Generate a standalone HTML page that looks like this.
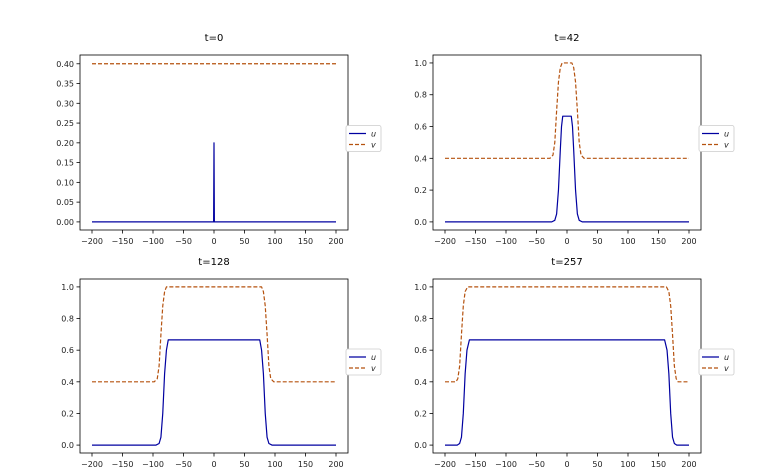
<!DOCTYPE html>
<html><head><meta charset="utf-8">
<style>body{margin:0;background:#fff}svg{display:block;font-family:"DejaVu Sans","Liberation Sans",sans-serif}</style>
</head><body>
<svg id="fig" width="780" height="473" viewBox="0 0 780 473"></svg>
<script>
const titles = ["t=0","t=42","t=128","t=257"];
const xTicks = [-200,-150,-100,-50,0,50,100,150,200];
const yTicks0 = [0,0.05,0.10,0.15,0.20,0.25,0.30,0.35,0.40];
const yTicksN = [0,0.2,0.4,0.6,0.8,1.0];
const x0 = [-200,-0.6,0,0.6,200];
const u0 = [0,0,0.2,0,0];
const v0x = [-200,200];
const v0 = [0.4,0.4];
const x42 = [-200,-25,-20,-17,-14,-11,-9,-7,0,7,9,11,14,17,20,25,200];
const u42 = [0,0,0.01,0.05,0.2,0.45,0.6,0.665,0.665,0.665,0.6,0.45,0.2,0.05,0.01,0,0];
const v42x = [-200,-28,-23,-20,-17,-14,-11,-8,0,8,11,14,17,20,23,28,200];
const v42 = [0.4,0.4,0.42,0.5,0.7,0.88,0.97,1,1,1,0.97,0.88,0.7,0.5,0.42,0.4,0.4];
const x128 = [-200,-95,-90,-87,-84,-81,-78,-75,0,75,78,81,84,87,90,95,200];
const u128 = [0,0,0.01,0.05,0.2,0.45,0.6,0.665,0.665,0.665,0.6,0.45,0.2,0.05,0.01,0,0];
const v128x = [-200,-98,-93,-90,-87,-84,-81,-78,0,78,81,84,87,90,93,98,200];
const v128 = [0.4,0.4,0.42,0.5,0.7,0.88,0.97,1,1,1,0.97,0.88,0.7,0.5,0.42,0.4,0.4];
const x257 = [-200,-180,-176,-173,-170,-167,-164,-160,0,160,164,167,170,173,176,180,200];
const u257 = [0,0,0.01,0.05,0.2,0.45,0.6,0.665,0.665,0.665,0.6,0.45,0.2,0.05,0.01,0,0];
const v257x = [-200,-182,-179,-176,-173,-170,-167,-163,0,163,167,170,173,176,179,182,200];
const v257 = [0.4,0.4,0.42,0.5,0.7,0.88,0.97,1,1,1,0.97,0.88,0.7,0.5,0.42,0.4,0.4];

const NS="http://www.w3.org/2000/svg";
const svg=document.getElementById('fig');
function mk(tag,attrs,parent){const e=document.createElementNS(NS,tag);for(const k in attrs)e.setAttribute(k,attrs[k]);(parent||svg).appendChild(e);return e;}
const panels=[
 {L:80,R:348,T:55,B:230,ymin:-0.0205,ymax:0.4222,yt:yTicks0,dec:2,ux:x0,u:u0,vx:v0x,v:v0},
 {L:433,R:701,T:55,B:230,ymin:-0.051,ymax:1.05,yt:yTicksN,dec:1,ux:x42,u:u42,vx:v42x,v:v42},
 {L:80,R:348,T:279,B:453,ymin:-0.05,ymax:1.05,yt:yTicksN,dec:1,ux:x128,u:u128,vx:v128x,v:v128},
 {L:433,R:701,T:279,B:453,ymin:-0.05,ymax:1.05,yt:yTicksN,dec:1,ux:x257,u:u257,vx:v257x,v:v257}
];
panels.forEach((p,i)=>{
 const g=mk('g',{});
 
 
 const xs=x=>p.L+12+(x+200)/400*(p.R-p.L-24);
 const ys=y=>p.B+(y-p.ymin)/(p.ymax-p.ymin)*(p.T-p.B);
 const t=mk('text',{x:(p.L+p.R)/2,y:p.T-14,'text-anchor':'middle','font-size':10,fill:'#000'},g);t.textContent=titles[i];
 
 xTicks.forEach(v=>{const x=xs(v);mk('line',{x1:x,x2:x,y1:p.B,y2:p.B+3.5,stroke:'#000','stroke-width':0.8},g);
  const tx=mk('text',{x:x,y:p.B+14,'text-anchor':'middle','font-size':8,fill:'#222'},g);tx.textContent=v<0?'\u2212'+(-v):v;
  });
 p.yt.forEach(v=>{const y=ys(v);mk('line',{x1:p.L-3.5,x2:p.L,y1:y,y2:y,stroke:'#000','stroke-width':0.8},g);
  const ty=mk('text',{x:p.L-6,y:y+3,'text-anchor':'end','font-size':8,fill:'#222'},g);ty.textContent=v.toFixed(p.dec);
  });
 const pts=(xa,ya)=>xa.map((x,k)=>xs(x).toFixed(2)+','+ys(ya[k]).toFixed(2)).join(' ');
 const lv=mk('polyline',{points:pts(p.vx,p.v),fill:'none',stroke:'#b5520f','stroke-width':1.2,'stroke-dasharray':'4,2','stroke-linejoin':'round'},g);
 
 const lu=mk('polyline',{points:pts(p.ux,p.u),fill:'none',stroke:'#0000a0','stroke-width':1.2,'stroke-linejoin':'round'},g);
 
 const fr=mk('rect',{x:p.L,y:p.T,width:p.R-p.L,height:p.B-p.T,fill:'none',stroke:'#000','stroke-width':0.8},g);
 
 const lx=p.R-2, ly=(p.T+p.B)/2-17;
 const lg=mk('g',{},g);
 
 mk('rect',{x:lx,y:ly,width:35,height:26,rx:2,fill:'#fff',stroke:'#ccc','stroke-width':0.8},lg);
 mk('line',{x1:lx+3,x2:lx+20,y1:ly+8,y2:ly+8,stroke:'#0000a0','stroke-width':1.2},lg);
 mk('line',{x1:lx+3,x2:lx+20,y1:ly+19,y2:ly+19,stroke:'#b5520f','stroke-width':1.2,'stroke-dasharray':'4,2'},lg);
 const a=mk('text',{x:lx+25,y:ly+11,'font-size':8,'font-style':'italic',fill:'#222'},lg);a.textContent='u';
 
 const b=mk('text',{x:lx+25,y:ly+22,'font-size':8,'font-style':'italic',fill:'#222'},lg);b.textContent='v';
 
});
</script>
</body></html>
